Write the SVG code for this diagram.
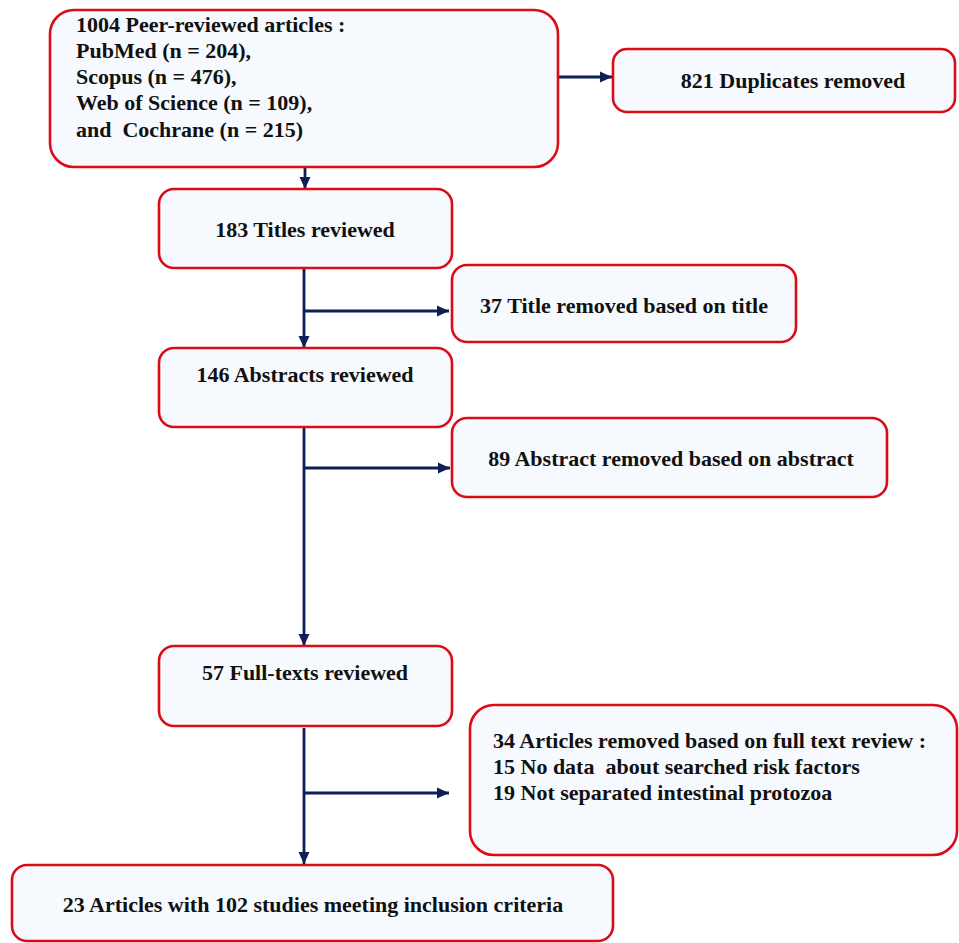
<svg xmlns="http://www.w3.org/2000/svg" width="959" height="943" viewBox="0 0 959 943">
<defs>
<style>
.box{fill:#f6f9fd;stroke:#dc0c16;stroke-width:2.6}
.t{font-family:"Liberation Serif","Times New Roman",serif;font-weight:bold;font-size:22px;fill:#111}
.c{text-anchor:middle}
.ln{stroke:#0f1f55;stroke-width:2.8;fill:none}
</style>
<marker id="ah" viewBox="0 0 12 11" refX="12" refY="5.5" markerWidth="4.3" markerHeight="4" markerUnits="strokeWidth" orient="auto">
<path d="M0,0 L12,5.5 L0,11 Z" fill="#0f1f55"/>
</marker>
</defs>
<rect width="959" height="943" fill="#ffffff"/>
<g id="connectors">
<line class="ln" x1="558" y1="77" x2="612" y2="77" marker-end="url(#ah)"/>
<line class="ln" x1="305" y1="168" x2="305" y2="189" marker-end="url(#ah)"/>
<line class="ln" x1="304" y1="268" x2="304" y2="348" marker-end="url(#ah)"/>
<line class="ln" x1="304" y1="311" x2="449" y2="311" marker-end="url(#ah)"/>
<line class="ln" x1="304" y1="428" x2="304" y2="646" marker-end="url(#ah)"/>
<line class="ln" x1="304" y1="468" x2="450" y2="468" marker-end="url(#ah)"/>
<line class="ln" x1="304" y1="728" x2="304" y2="864" marker-end="url(#ah)"/>
<line class="ln" x1="304" y1="793" x2="449" y2="793" marker-end="url(#ah)"/>
</g>
<g id="n1">
<rect class="box" x="50" y="10" width="508" height="157" rx="24"/>
<text class="t" x="76" y="32">1004 Peer-reviewed articles :</text>
<text class="t" x="76" y="58">PubMed (n = 204),</text>
<text class="t" x="76" y="84">Scopus (n = 476),</text>
<text class="t" x="76" y="110">Web of Science (n = 109),</text>
<text class="t" x="76" y="137" xml:space="preserve">and  Cochrane (n = 215)</text>
</g>
<g id="n2">
<rect class="box" x="613" y="49" width="342" height="63" rx="14"/>
<text class="t c" x="793" y="88">821 Duplicates removed</text>
</g>
<g id="n3">
<rect class="box" x="159" y="189" width="293" height="79" rx="15"/>
<text class="t c" x="305" y="237">183 Titles reviewed</text>
</g>
<g id="n4">
<rect class="box" x="452" y="265" width="344" height="77" rx="15"/>
<text class="t c" x="624" y="313">37 Title removed based on title</text>
</g>
<g id="n5">
<rect class="box" x="159" y="348" width="293" height="79" rx="15"/>
<text class="t c" x="305" y="382">146 Abstracts reviewed</text>
</g>
<g id="n6">
<rect class="box" x="452" y="418" width="435" height="79" rx="15"/>
<text class="t c" x="671" y="466">89 Abstract removed based on abstract</text>
</g>
<g id="n7">
<rect class="box" x="159" y="646" width="293" height="80" rx="15"/>
<text class="t c" x="305" y="680">57 Full-texts reviewed</text>
</g>
<g id="n8">
<rect class="box" x="470" y="705" width="487" height="150" rx="24"/>
<text class="t" x="493" y="748">34 Articles removed based on full text review :</text>
<text class="t" x="493" y="774" xml:space="preserve">15 No data  about searched risk factors</text>
<text class="t" x="493" y="800">19 Not separated intestinal protozoa</text>
</g>
<g id="n9">
<rect class="box" x="12" y="865" width="601" height="76" rx="15"/>
<text class="t c" x="313" y="912">23 Articles with 102 studies meeting inclusion criteria</text>
</g>
</svg>
